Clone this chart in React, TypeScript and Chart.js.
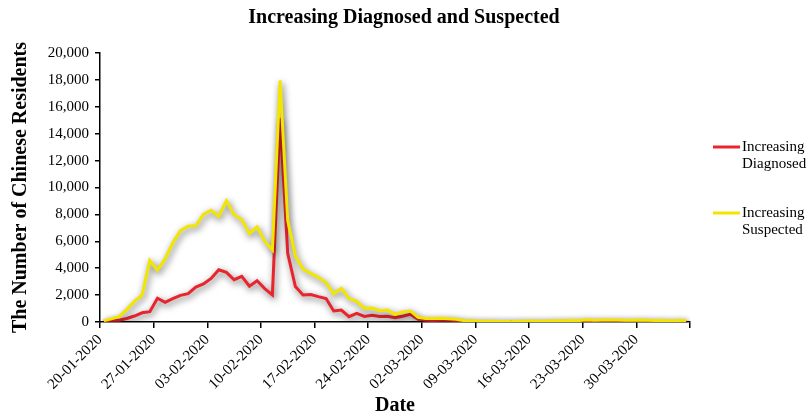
import { useEffect, useRef } from 'react';
import { Chart, registerables } from 'chart.js';

Chart.register(...registerables);

const dates: string[] = [
  '20-01-2020', '21-01-2020', '22-01-2020', '23-01-2020', '24-01-2020', '25-01-2020', '26-01-2020',
  '27-01-2020', '28-01-2020', '29-01-2020', '30-01-2020', '31-01-2020', '01-02-2020', '02-02-2020',
  '03-02-2020', '04-02-2020', '05-02-2020', '06-02-2020', '07-02-2020', '08-02-2020', '09-02-2020',
  '10-02-2020', '11-02-2020', '12-02-2020', '13-02-2020', '14-02-2020', '15-02-2020', '16-02-2020',
  '17-02-2020', '18-02-2020', '19-02-2020', '20-02-2020', '21-02-2020', '22-02-2020', '23-02-2020',
  '24-02-2020', '25-02-2020', '26-02-2020', '27-02-2020', '28-02-2020', '29-02-2020', '01-03-2020',
  '02-03-2020', '03-03-2020', '04-03-2020', '05-03-2020', '06-03-2020', '07-03-2020', '08-03-2020',
  '09-03-2020', '10-03-2020', '11-03-2020', '12-03-2020', '13-03-2020', '14-03-2020', '15-03-2020',
  '16-03-2020', '17-03-2020', '18-03-2020', '19-03-2020', '20-03-2020', '21-03-2020', '22-03-2020',
  '23-03-2020', '24-03-2020', '25-03-2020', '26-03-2020', '27-03-2020', '28-03-2020', '29-03-2020',
  '30-03-2020', '31-03-2020', '01-04-2020', '02-04-2020', '03-04-2020', '04-04-2020', '05-04-2020',
];

const increasingDiagnosed: number[] = [
  77, 149, 131, 259, 444, 688, 769, 1771, 1459, 1737, 1982, 2102,
  2590, 2829, 3235, 3887, 3694, 3143, 3399, 2656, 3062, 2478, 2015, 15152, 5090, 2641, 2009, 2048,
  1886, 1749, 820, 889, 397, 648, 409, 508, 406, 433, 327, 427, 573,
  202, 125, 119, 139, 143, 99, 44, 40, 19, 24, 15, 8, 11, 20, 16, 21, 13, 34, 39, 41, 46, 39, 78,
  47, 67, 55, 54, 45, 31, 48, 36,
  35, 31, 19, 30, 39,
];

const increasingSuspected: number[] = [
  104, 230, 400, 939, 1562, 1997, 4575, 3848, 4707, 5885, 6794, 7121,
  7152, 8002, 8307, 7858, 9022, 7976, 7613, 6572, 7070, 6014, 5357, 17959, 7540, 4918, 3927, 3611,
  3318, 2934, 2097, 2503, 1758, 1530, 1029, 1038, 845, 885, 575, 739, 821,
  343, 254, 262, 282, 245, 198, 104, 85, 55, 55, 48, 41, 28, 59, 61, 66, 58, 79, 84, 95, 110, 110, 160,
  130, 150, 140, 145, 135, 125, 140, 125,
  120, 115, 100, 110, 105,
];

const yTickValues: number[] = [0, 2000, 4000, 6000, 8000, 10000, 12000, 14000, 16000, 18000, 20000];

const seriesNames: string[][] = [
  ['Increasing', 'Diagnosed'],
  ['Increasing', 'Suspected'],
];
const seriesColors: string[] = ['#E9242C', '#F2E500'];

const FONT = "'Liberation Serif', 'Times New Roman', serif";

const shadowPlugin = {
  id: 'lineShadow',
  beforeDatasetDraw(chart: any) {
    const ctx = chart.ctx;
    ctx.save();
    ctx.shadowColor = 'rgba(0,0,0,0.6)';
    ctx.shadowBlur = 7;
    ctx.shadowOffsetX = 1.5;
    ctx.shadowOffsetY = 2.5;
  },
  afterDatasetDraw(chart: any) {
    chart.ctx.restore();
  },
};

const legendPlugin = {
  id: 'sideLegend',
  afterDraw(chart: any) {
    const ctx = chart.ctx;
    ctx.save();
    const x0 = chart.chartArea.right + 23;
    const ys = [147, 213];
    seriesNames.forEach((lines, i) => {
      const y = ys[i];
      ctx.strokeStyle = seriesColors[i];
      ctx.lineWidth = 3;
      ctx.beginPath();
      ctx.moveTo(x0, y);
      ctx.lineTo(x0 + 27, y);
      ctx.stroke();
      ctx.fillStyle = '#000';
      ctx.font = `15px ${FONT}`;
      ctx.textAlign = 'left';
      ctx.textBaseline = 'middle';
      lines.forEach((t, j) => {
        ctx.fillText(t, x0 + 29, y + j * 17);
      });
    });
    ctx.restore();
  },
};

export default function App() {
  const ref = useRef<HTMLCanvasElement>(null);

  useEffect(() => {
    if (!ref.current) return;
    const chart = new Chart(ref.current, {
      type: 'line',
      data: {
        datasets: [
          {
            label: seriesNames[0].join(' '),
            data: increasingDiagnosed.map((v, i) => ({ x: i + 0.5, y: v })),
            borderColor: seriesColors[0],
            backgroundColor: seriesColors[0],
            borderWidth: 3,
            pointRadius: 0,
            tension: 0,
            order: 1,
          },
          {
            label: seriesNames[1].join(' '),
            data: increasingSuspected.map((v, i) => ({ x: i + 0.5, y: v })),
            borderColor: seriesColors[1],
            backgroundColor: seriesColors[1],
            borderWidth: 3,
            pointRadius: 0,
            tension: 0,
            order: 0,
          },
        ],
      },
      options: {
        animation: false,
        responsive: true,
        maintainAspectRatio: false,
        layout: { padding: { left: 0, right: 0, top: 0, bottom: 0 } },
        plugins: {
          legend: { display: false },
          tooltip: { enabled: false },
          title: {
            display: true,
            text: 'Increasing Diagnosed and Suspected',
            color: '#000',
            font: { family: FONT, size: 20, weight: 'bold', lineHeight: 1.2 },
            padding: { top: 6, bottom: 23 },
          },
        },
        scales: {
          x: {
            type: 'linear',
            min: 0,
            max: dates.length,
            afterFit: (s: any) => { s.height = 94; },
            afterBuildTicks: (s: any) => {
              const t = [];
              for (let v = 0; v <= dates.length; v += 7) t.push({ value: v });
              if (t[t.length - 1].value !== dates.length) t.push({ value: dates.length });
              s.ticks = t;
            },
            ticks: {
              autoSkip: false,
              maxRotation: 45,
              minRotation: 45,
              padding: 3,
              color: '#000',
              font: { family: FONT, size: 15 },
              callback: (v: any) => (v < dates.length && v % 7 === 0 ? dates[v] : ''),
            },
            grid: { display: true, drawOnChartArea: false, drawTicks: true, tickLength: 6, color: '#000', lineWidth: 1.5 },
            border: { display: true, color: '#000', width: 1.5 },
            title: {
              display: true,
              text: 'Date',
              color: '#000',
              font: { family: FONT, size: 20, weight: 'bold', lineHeight: 1 },
              padding: { top: 0, bottom: 0 },
            },
          },
          y: {
            type: 'linear',
            min: 0,
            max: 20000,
            afterFit: (s: any) => { s.width = 100; },
            afterBuildTicks: (s: any) => { s.ticks = yTickValues.map((v) => ({ value: v })); },
            ticks: {
              padding: 6,
              color: '#000',
              font: { family: FONT, size: 15 },
              callback: (v: any) => Number(v).toLocaleString('en-US'),
            },
            grid: { display: true, drawOnChartArea: false, drawTicks: true, tickLength: 5, color: '#000', lineWidth: 1.5 },
            border: { display: true, color: '#000', width: 1.5 },
            title: {
              display: true,
              text: 'The Number of Chinese Residents',
              color: '#000',
              font: { family: FONT, size: 20, weight: 'bold', lineHeight: 1 },
              padding: { top: 11, bottom: 0 },
            },
          },
          legendSpace: {
            type: 'linear',
            position: 'right',
            min: 0,
            max: 1,
            afterFit: (s: any) => { s.width = 118; },
            ticks: { display: false },
            grid: { display: false, drawTicks: false },
            border: { display: false },
          },
        },
      },
      plugins: [shadowPlugin, legendPlugin],
    } as any);
    return () => chart.destroy();
  }, []);

  return (
    <div style={{ position: 'absolute', left: 0, top: 0, width: 808, height: 416 }}>
      <canvas ref={ref} />
    </div>
  );
}
